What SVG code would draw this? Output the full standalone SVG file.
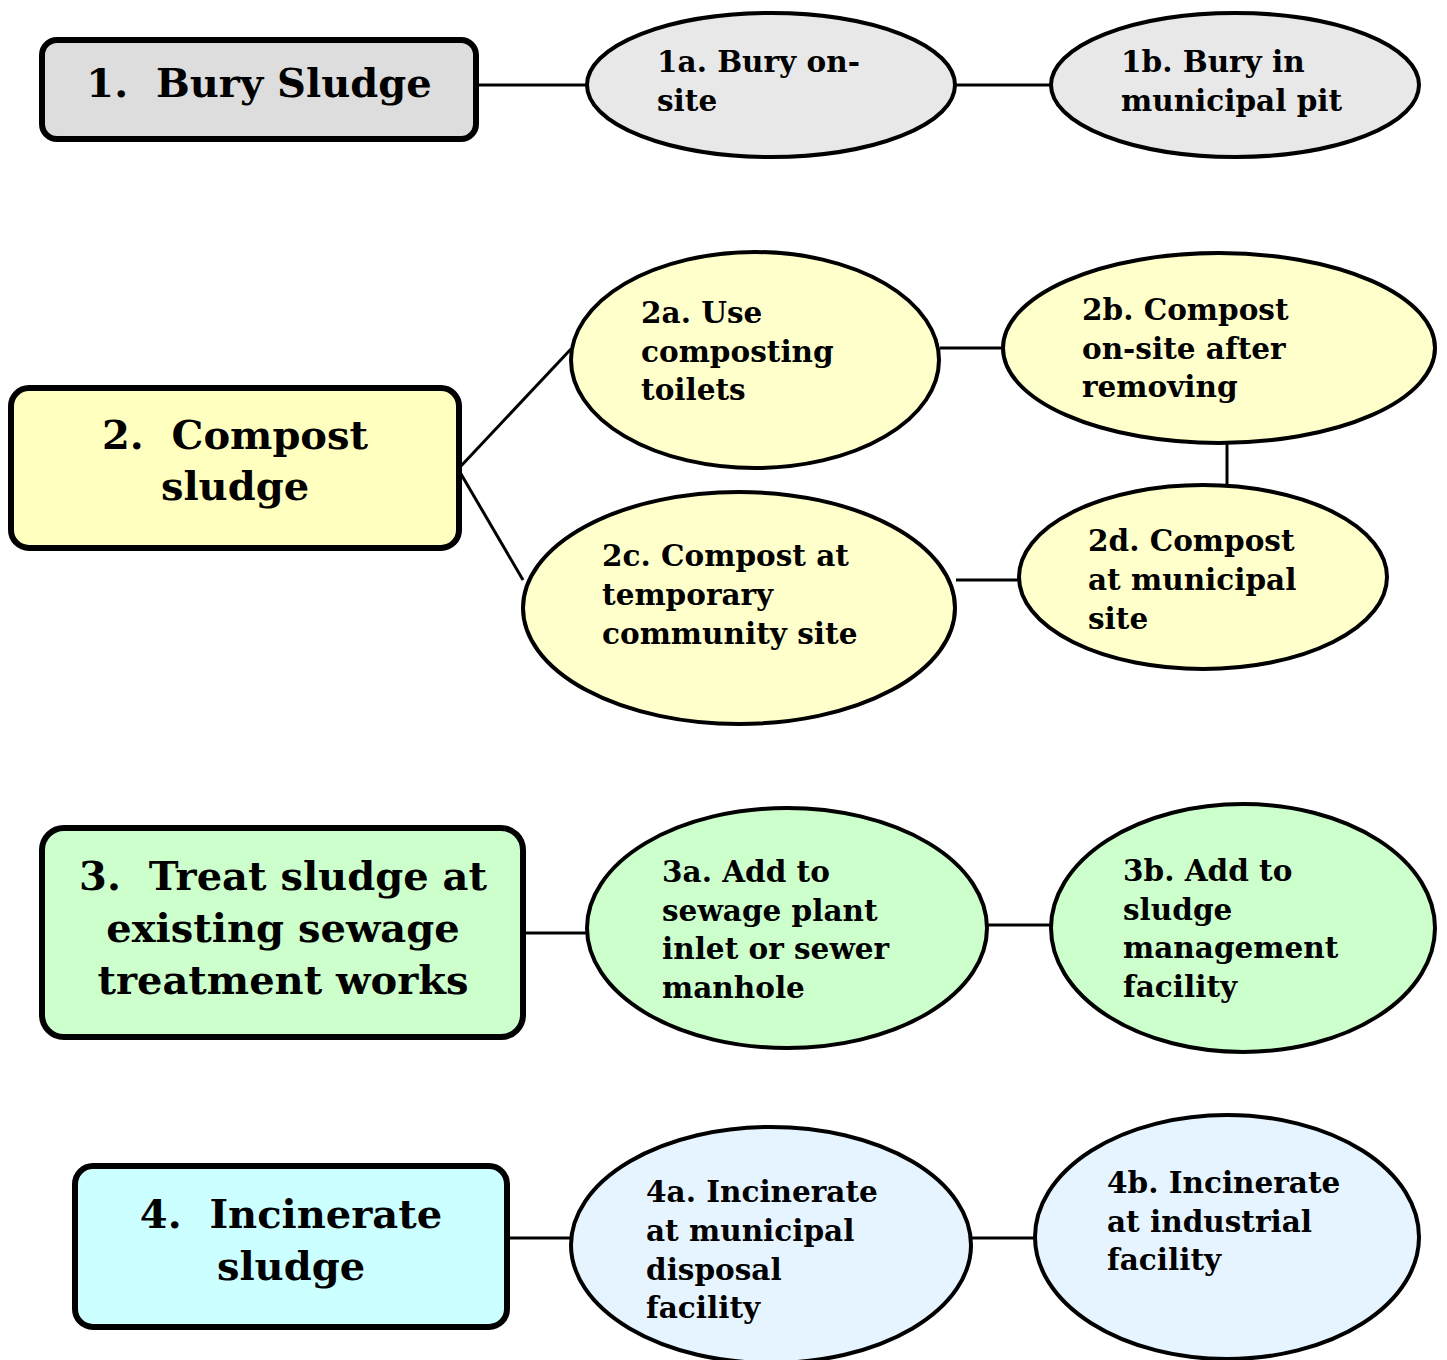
<svg xmlns="http://www.w3.org/2000/svg" width="1447" height="1360" viewBox="0 0 1447 1360">
<style>
.box{stroke:#000;stroke-width:6}
.ell{stroke:#000;stroke-width:4}
.c{stroke:#000;stroke-width:3;fill:none}
.bt{font-family:"DejaVu Serif","Liberation Serif",serif;font-weight:bold;font-size:40px;fill:#000;text-anchor:middle;white-space:pre}
.et{font-family:"DejaVu Serif","Liberation Serif",serif;font-weight:bold;font-size:29.5px;fill:#000}
.g1{fill:#dddddd}.e1{fill:#e8e8e8}
.g2{fill:#ffffbf}.e2{fill:#ffffcc}
.g3{fill:#ccffcc}.e3{fill:#ccffcc}
.g4{fill:#ccffff}.e4{fill:#e6f4ff}
</style>
<rect width="1447" height="1360" fill="#fff"/>
<g id="connectors">
<line class="c" x1="476" y1="85" x2="587" y2="85"/>
<line class="c" x1="955" y1="85" x2="1051" y2="85"/>
<line class="c" x1="461" y1="466" x2="571" y2="349"/>
<line class="c" x1="461" y1="474" x2="523" y2="580"/>
<line class="c" x1="940" y1="348" x2="1003" y2="348"/>
<line class="c" x1="1227" y1="443" x2="1227" y2="486"/>
<line class="c" x1="956" y1="580" x2="1035" y2="580"/>
<line class="c" x1="523" y1="933" x2="587" y2="933"/>
<line class="c" x1="987" y1="925" x2="1051" y2="925"/>
<line class="c" x1="507" y1="1238" x2="571" y2="1238"/>
<line class="c" x1="971" y1="1238" x2="1035" y2="1238"/>
</g>
<g id="n1">
<rect class="box g1" x="42" y="40" width="434" height="99" rx="15"/>
<text class="bt" x="259" y="97" xml:space="preserve">1.  Bury Sludge</text>
</g>
<g id="n1a">
<ellipse class="ell e1" cx="771" cy="85" rx="184" ry="72"/>
<text class="et" x="657" y="72">1a. Bury on-</text>
<text class="et" x="657" y="111">site</text>
</g>
<g id="n1b">
<ellipse class="ell e1" cx="1235" cy="85" rx="184" ry="72"/>
<text class="et" x="1121" y="72">1b. Bury in</text>
<text class="et" x="1121" y="111">municipal pit</text>
</g>
<g id="n2">
<rect class="box g2" x="11" y="388" width="448" height="160" rx="18"/>
<text class="bt" x="235" y="449" xml:space="preserve">2.  Compost</text>
<text class="bt" x="235" y="500">sludge</text>
</g>
<g id="n2a">
<ellipse class="ell e2" cx="755" cy="360" rx="184" ry="108"/>
<text class="et" x="641" y="323">2a. Use</text>
<text class="et" x="641" y="362">composting</text>
<text class="et" x="641" y="400">toilets</text>
</g>
<g id="n2b">
<ellipse class="ell e2" cx="1219" cy="348" rx="216" ry="95"/>
<text class="et" x="1082" y="320">2b. Compost</text>
<text class="et" x="1082" y="359">on-site after</text>
<text class="et" x="1082" y="397">removing</text>
</g>
<g id="n2c">
<ellipse class="ell e2" cx="739" cy="608" rx="216" ry="116"/>
<text class="et" x="602" y="566">2c. Compost at</text>
<text class="et" x="602" y="605">temporary</text>
<text class="et" x="602" y="644">community site</text>
</g>
<g id="n2d">
<ellipse class="ell e2" cx="1203" cy="577" rx="184" ry="92"/>
<text class="et" x="1088" y="551">2d. Compost</text>
<text class="et" x="1088" y="590">at municipal</text>
<text class="et" x="1088" y="629">site</text>
</g>
<g id="n3">
<rect class="box g3" x="42" y="828" width="481" height="209" rx="22"/>
<text class="bt" x="283" y="890" xml:space="preserve">3.  Treat sludge at</text>
<text class="bt" x="283" y="942">existing sewage</text>
<text class="bt" x="283" y="994">treatment works</text>
</g>
<g id="n3a">
<ellipse class="ell e3" cx="787" cy="928" rx="200" ry="120"/>
<text class="et" x="662" y="882">3a. Add to</text>
<text class="et" x="662" y="921">sewage plant</text>
<text class="et" x="662" y="959">inlet or sewer</text>
<text class="et" x="662" y="998">manhole</text>
</g>
<g id="n3b">
<ellipse class="ell e3" cx="1243" cy="928" rx="192" ry="124"/>
<text class="et" x="1123" y="881">3b. Add to</text>
<text class="et" x="1123" y="920">sludge</text>
<text class="et" x="1123" y="958">management</text>
<text class="et" x="1123" y="997">facility</text>
</g>
<g id="n4">
<rect class="box g4" x="75" y="1166" width="432" height="161" rx="18"/>
<text class="bt" x="291" y="1228" xml:space="preserve">4.  Incinerate</text>
<text class="bt" x="291" y="1280">sludge</text>
</g>
<g id="n4a">
<ellipse class="ell e4" cx="771" cy="1245" rx="200" ry="118"/>
<text class="et" x="646" y="1202">4a. Incinerate</text>
<text class="et" x="646" y="1241">at municipal</text>
<text class="et" x="646" y="1280">disposal</text>
<text class="et" x="646" y="1318">facility</text>
</g>
<g id="n4b">
<ellipse class="ell e4" cx="1227" cy="1237" rx="192" ry="122"/>
<text class="et" x="1107" y="1193">4b. Incinerate</text>
<text class="et" x="1107" y="1232">at industrial</text>
<text class="et" x="1107" y="1270">facility</text>
</g>
</svg>
